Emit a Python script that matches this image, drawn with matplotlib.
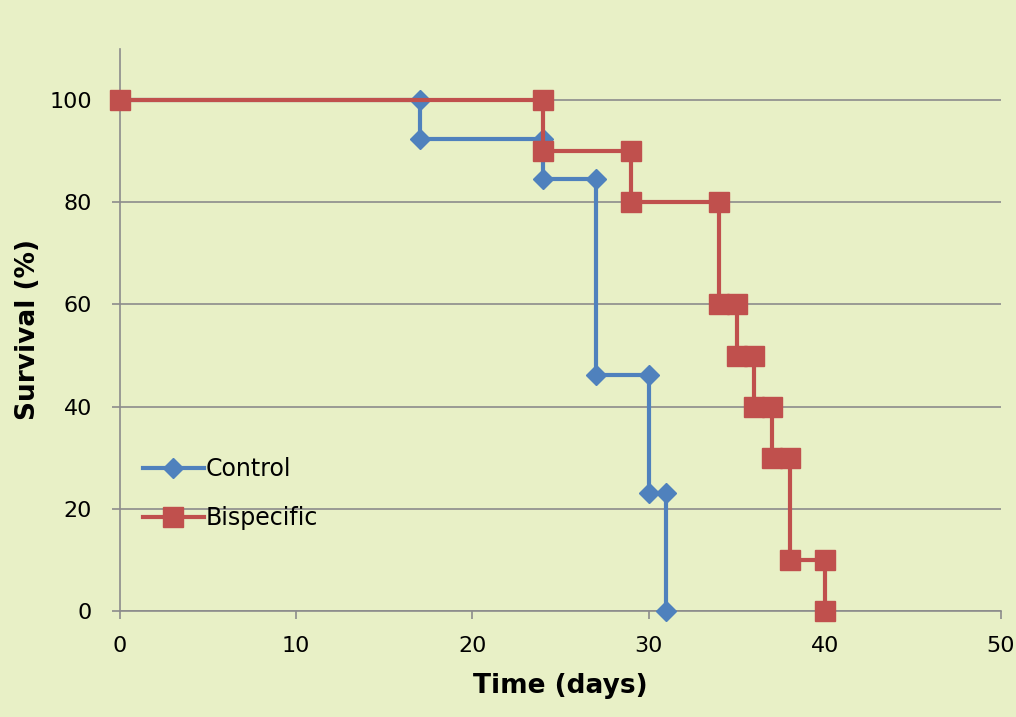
import matplotlib
matplotlib.use("Agg")
import matplotlib.pyplot as plt

control_days = [0, 17, 17, 24, 24, 27, 27, 30, 30, 31, 31]
control_surv = [100, 100, 92.3, 92.3, 84.6, 84.6, 46.2, 46.2, 23.1, 23.1, 0]
bisp_days = [0, 24, 24, 29, 29, 34, 34, 35, 35, 36, 36, 37, 37, 38, 38, 40, 40]
bisp_surv = [100, 100, 90, 90, 80, 80, 60, 60, 50, 50, 40, 40, 30, 30, 10, 10, 0]
x_ticks = [0, 10, 20, 30, 40, 50]
y_ticks = [0, 20, 40, 60, 80, 100]

BG = "#E8F0C6"
BLUE = "#4F81BD"
RED = "#C0504D"
GRID = "#8C8C8C"

plt.rcParams['font.family'] = ['DejaVu Sans']

fig = plt.figure(figsize=(10.16, 7.17), dpi=100, facecolor=BG)
ax = fig.add_axes([0.1181, 0.1478, 0.8671, 0.7839], facecolor=BG)

ax.plot(control_days, control_surv, color=BLUE, lw=3, marker='D', ms=10,
        mfc=BLUE, mec=BLUE, label='Control', zorder=3, clip_on=False)
ax.plot(bisp_days, bisp_surv, color=RED, lw=3, marker='s', ms=14,
        mfc=RED, mec=RED, label='Bispecific', zorder=4, clip_on=False)

ax.set_xlim(0, 50)
ax.set_ylim(0, 110)
ax.set_xticks(x_ticks)
ax.set_yticks(y_ticks)
ax.grid(axis='y', color=GRID, lw=1.2)
ax.set_axisbelow(True)
for s in ['top', 'right']:
    ax.spines[s].set_visible(False)
for s in ['left', 'bottom']:
    ax.spines[s].set_color(GRID)
    ax.spines[s].set_linewidth(1.2)
ax.tick_params(axis='both', colors=GRID, labelcolor='black', labelsize=16,
               length=6, width=1.2)
ax.tick_params(axis='x', pad=12)
ax.tick_params(axis='y', pad=14)
ax.set_xlabel('Time (days)', fontsize=19, fontweight='bold', labelpad=12)
ax.set_ylabel('Survival (%)', fontsize=19, fontweight='bold', labelpad=6)

leg = ax.legend(loc='upper left', bbox_to_anchor=(0.015, 0.29), frameon=False,
                fontsize=17, handlelength=2.6, handletextpad=0.05,
                labelspacing=1.05, borderaxespad=0)

fig.savefig('out.png', dpi=100, facecolor=BG)
